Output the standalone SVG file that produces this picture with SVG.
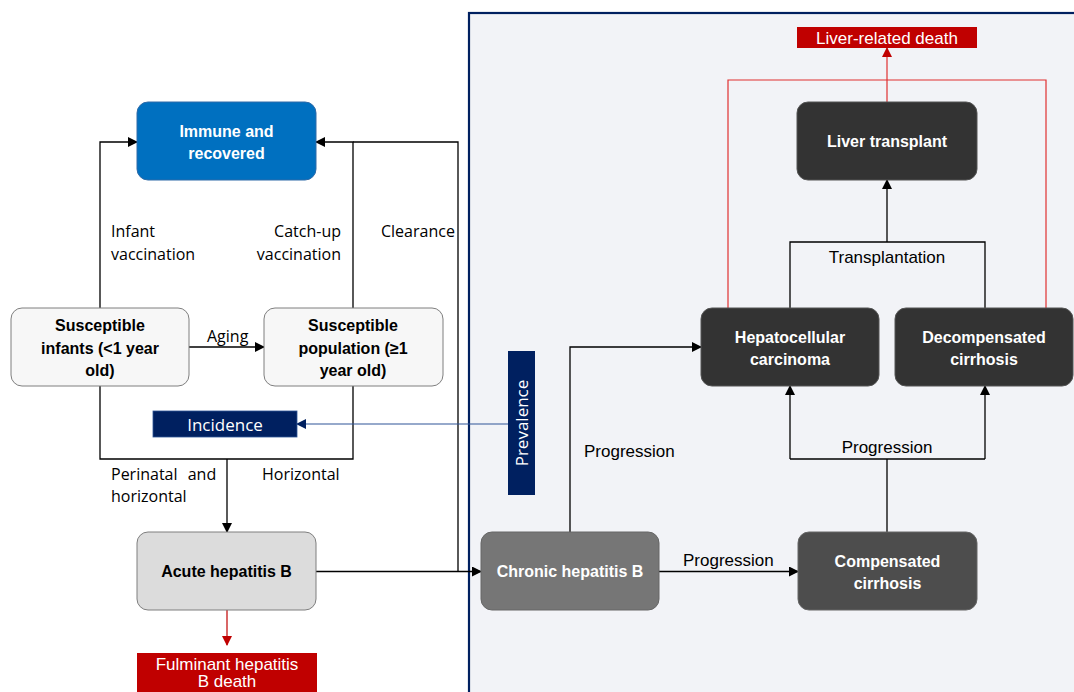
<svg xmlns="http://www.w3.org/2000/svg" width="1074" height="692" viewBox="0 0 1074 692">
<style>
.nt{font-family:"Liberation Sans",Arial,sans-serif;font-weight:bold;font-size:16px;text-anchor:middle}
.lb{font-family:"Open Sans","DejaVu Sans",sans-serif;font-size:16px;fill:#000}
.pl{font-family:"Liberation Sans",Arial,sans-serif;font-size:17px;fill:#000}
.rt{font-family:"Liberation Sans",Arial,sans-serif;font-size:17px;fill:#fff;text-anchor:middle}
.w{fill:#fff}
.k{fill:#000}
.ln{fill:none;stroke:#000;stroke-width:1.3}
.rd{fill:none;stroke:#e03030;stroke-width:1.2}
</style>
<defs>
<marker id="ab" markerWidth="10" markerHeight="10" refX="9" refY="5" orient="auto" markerUnits="userSpaceOnUse"><path d="M0,0 L10,5 L0,10 z" fill="#000"/></marker>
<marker id="ar" markerWidth="10" markerHeight="10" refX="9" refY="5" orient="auto" markerUnits="userSpaceOnUse"><path d="M0,0 L10,5 L0,10 z" fill="#c00000"/></marker>
<marker id="an" markerWidth="10" markerHeight="10" refX="9" refY="5" orient="auto" markerUnits="userSpaceOnUse"><path d="M0,0 L10,5 L0,10 z" fill="#002060"/></marker>
</defs>
<rect width="1074" height="692" fill="#fff"/>
<g id="panel"><rect x="469" y="13" width="620" height="700" fill="#f2f3f7" stroke="#002060" stroke-width="2.2"/></g>

<g id="connectors">
<path class="ln" d="M100,308 V142 H137" marker-end="url(#ab)"/>
<path class="ln" d="M353,308 V142 H316" marker-end="url(#ab)"/>
<path class="ln" d="M458,571 V142 H353"/>
<path class="ln" d="M189,347 H264" marker-end="url(#ab)"/>
<path class="ln" d="M100,386 V459 H353 V386"/>
<path class="ln" d="M227,459 V532" marker-end="url(#ab)"/>
<path d="M227,610 V645" fill="none" stroke="#c00000" stroke-width="1.2" marker-end="url(#ar)"/>
<path class="ln" d="M316,571.5 H481" marker-end="url(#ab)"/>
<path d="M508,424 H297" fill="none" stroke="#2f5597" stroke-width="1.2" marker-end="url(#an)"/>
<path class="ln" d="M659,571.5 H798" marker-end="url(#ab)"/>
<path class="ln" d="M570,532 V347 H701" marker-end="url(#ab)"/>
<path class="ln" d="M887,532 V459"/>
<path class="ln" d="M790,459 H985"/>
<path class="ln" d="M790,459 V386" marker-end="url(#ab)"/>
<path class="ln" d="M985,459 V386" marker-end="url(#ab)"/>
<path class="ln" d="M790,308 V242 H985 V308"/>
<path class="ln" d="M887,242 V180" marker-end="url(#ab)"/>
<path class="rd" d="M728,308 V80 H1046 V308"/>
<path class="rd" d="M887,102 V48" marker-end="url(#ar)"/>
</g>

<g id="labels">
<text class="lb" x="111" y="237">Infant</text>
<text class="lb" x="111" y="260">vaccination</text>
<text class="lb" x="341" y="237" text-anchor="end">Catch-up</text>
<text class="lb" x="341" y="260" text-anchor="end">vaccination</text>
<text class="lb" x="381" y="237">Clearance</text>
<text class="lb" x="207" y="342">Aging</text>
<text class="lb" x="111" y="480" word-spacing="6">Perinatal and</text>
<text class="lb" x="111" y="502">horizontal</text>
<text class="lb" x="262" y="480">Horizontal</text>
<text class="pl" x="584" y="457">Progression</text>
<text class="pl" x="683" y="566">Progression</text>
<text class="pl" x="887" y="453" text-anchor="middle">Progression</text>
<text class="pl" x="887" y="263" text-anchor="middle">Transplantation</text>
</g>

<g id="immune"><rect x="137" y="102" width="179" height="78" rx="11" fill="#0070c0" stroke="#2e6aa8"/>
<text class="nt w" x="226.5" y="137">Immune and</text><text class="nt w" x="226.5" y="159">recovered</text></g>
<g id="sus-infants"><rect x="11" y="308" width="178" height="78" rx="11" fill="#f7f7f7" stroke="#7f7f7f"/>
<text class="nt k" x="100" y="331">Susceptible</text><text class="nt k" x="100" y="354">infants (&lt;1 year</text><text class="nt k" x="100" y="376">old)</text></g>
<g id="sus-pop"><rect x="264" y="308" width="179" height="78" rx="11" fill="#f7f7f7" stroke="#7f7f7f"/>
<text class="nt k" x="353" y="331">Susceptible</text><text class="nt k" x="353" y="354">population (≥1</text><text class="nt k" x="353" y="376">year old)</text></g>
<g id="incidence"><rect x="153" y="411" width="144" height="26" fill="#002060" stroke="#2f5597" stroke-width="0.8"/>
<text x="225" y="431" text-anchor="middle" font-family="'Open Sans','DejaVu Sans',sans-serif" font-size="17" fill="#fff">Incidence</text></g>
<g id="acute"><rect x="137" y="532" width="179" height="78" rx="11" fill="#dcdcdc" stroke="#7f7f7f"/>
<text class="nt k" x="226.5" y="577">Acute hepatitis B</text></g>
<g id="fulminant"><rect x="137" y="653" width="180" height="50" fill="#c00000"/>
<text class="rt" x="227" y="670">Fulminant hepatitis</text>
<text class="rt" x="227" y="687">B death</text></g>
<g id="prevalence"><rect x="508" y="351" width="27" height="144" fill="#002060"/>
<text transform="translate(528,423) rotate(-90)" text-anchor="middle" font-family="'Open Sans','DejaVu Sans',sans-serif" font-size="17" fill="#fff">Prevalence</text></g>
<g id="liver-death"><rect x="797" y="27" width="180" height="21" fill="#c00000"/>
<text class="rt" x="887" y="44">Liver-related death</text></g>
<g id="transplant"><rect x="797" y="102" width="180" height="78" rx="11" fill="#333333" stroke="#555"/>
<text class="nt w" x="887" y="147">Liver transplant</text></g>
<g id="hcc"><rect x="701" y="308" width="178" height="78" rx="11" fill="#333333" stroke="#555"/>
<text class="nt w" x="790" y="343">Hepatocellular</text><text class="nt w" x="790" y="365">carcinoma</text></g>
<g id="decomp"><rect x="895" y="308" width="178" height="78" rx="11" fill="#333333" stroke="#555"/>
<text class="nt w" x="984" y="343">Decompensated</text><text class="nt w" x="984" y="365">cirrhosis</text></g>
<g id="chronic"><rect x="481" y="532" width="178" height="78" rx="11" fill="#767676" stroke="#666"/>
<text class="nt w" x="570" y="577">Chronic hepatitis B</text></g>
<g id="compensated"><rect x="798" y="532" width="179" height="78" rx="11" fill="#4d4d4d" stroke="#666"/>
<text class="nt w" x="887.5" y="567">Compensated</text><text class="nt w" x="887.5" y="589">cirrhosis</text></g>
</svg>
